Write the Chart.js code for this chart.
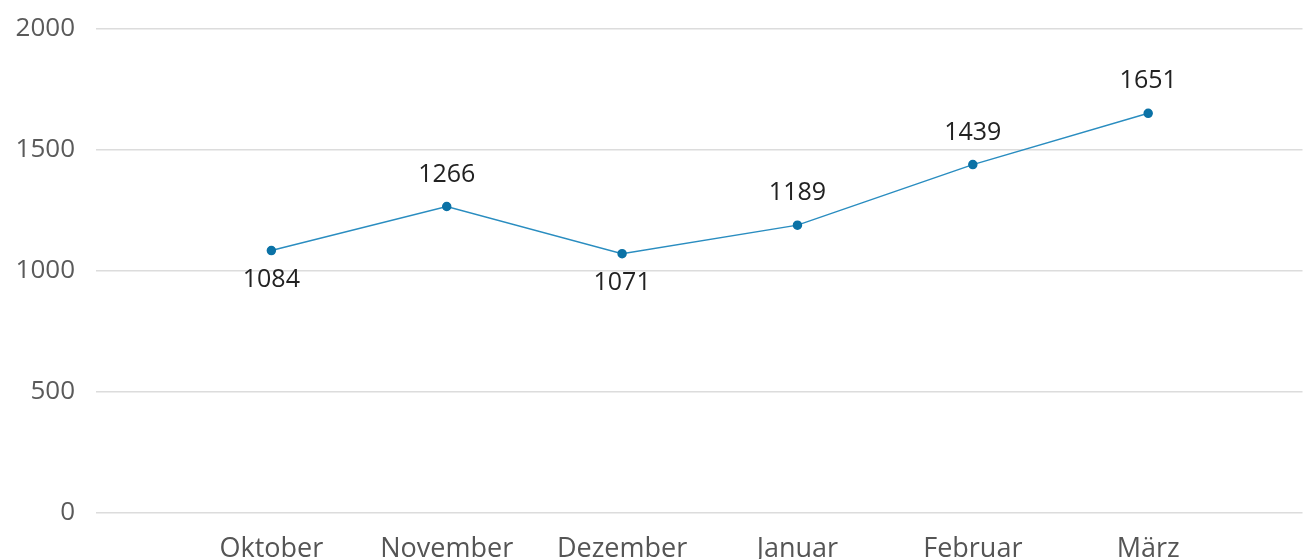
<!DOCTYPE html>
<html>
<head>
<meta charset="utf-8">
<script src="https://cdn.jsdelivr.net/npm/chart.js@4.4.0/dist/chart.umd.min.js"></script>
<style>
  html, body { margin: 0; padding: 0; background: #fff; }
  #wrap { width: 1308px; height: 559px; }
</style>
</head>
<body>
<div id="wrap"><canvas id="monthChart"></canvas></div>
<script>
const months = ['Oktober', 'November', 'Dezember', 'Januar', 'Februar', 'März']
const counts = [1084, 1266, 1071, 1189, 1439, 1651]
const yTicks = [0, 500, 1000, 1500, 2000]

const FONT = '"Open Sans", "DejaVu Sans", sans-serif'

// value labels: below the point when it's a local low, above otherwise
const valueLabels = {
    id: 'valueLabels',
    afterDatasetsDraw(chart) {
        const ctx = chart.ctx
        const meta = chart.getDatasetMeta(0)
        ctx.save()
        ctx.font = '25px ' + FONT
        ctx.fillStyle = '#222'
        ctx.textAlign = 'center'
        ctx.textBaseline = 'middle'
        meta.data.forEach((pt, i) => {
            const v = counts[i]
            const prev = i > 0 ? counts[i - 1] : Infinity
            const next = i < counts.length - 1 ? counts[i + 1] : -Infinity
            const below = v < prev && v < next
            ctx.fillText(String(v), pt.x, below ? pt.y + 29 : pt.y - 32)
        })
        ctx.restore()
    }
}

new Chart(document.getElementById('monthChart'), {
    type: 'line',
    data: {
        datasets: [{
            data: counts.map((v, i) => ({ x: i + 1, y: v })),
            borderColor: '#2a8dc0',
            borderWidth: 1.5,
            pointBackgroundColor: '#0b72a6',
            pointBorderColor: '#0b72a6',
            pointRadius: 4,
            pointHoverRadius: 4,
            tension: 0
        }]
    },
    options: {
        responsive: true,
        maintainAspectRatio: false,
        animation: false,
        layout: { padding: { top: 26, right: 3, left: 0, bottom: 0 } },
        plugins: { legend: { display: false }, tooltip: { enabled: false } },
        scales: {
            x: {
                type: 'linear',
                min: 0,
                max: 6.88,
                afterBuildTicks: s => { s.ticks = months.map((m, i) => ({ value: i + 1 })) },
                afterFit: s => { s.height = 46 },
                grid: { display: false, drawTicks: false },
                border: { display: false },
                ticks: {
                    padding: 23,
                    color: '#555',
                    font: { family: FONT, size: 27, lineHeight: 1 },
                    maxRotation: 0,
                    callback: v => months[v - 1]
                }
            },
            y: {
                min: 0,
                max: 2000,
                afterBuildTicks: s => { s.ticks = yTicks.map(v => ({ value: v })) },
                afterFit: s => { s.width = 96 },
                grid: { color: '#dcdcdc', lineWidth: 1.5, drawTicks: false },
                border: { display: false },
                ticks: {
                    padding: 21,
                    color: '#5a5a5a',
                    font: { family: FONT, size: 26, lineHeight: 0.6 },
                    callback: v => String(v)
                }
            }
        }
    },
    plugins: [valueLabels]
})
</script>
</body>
</html>
